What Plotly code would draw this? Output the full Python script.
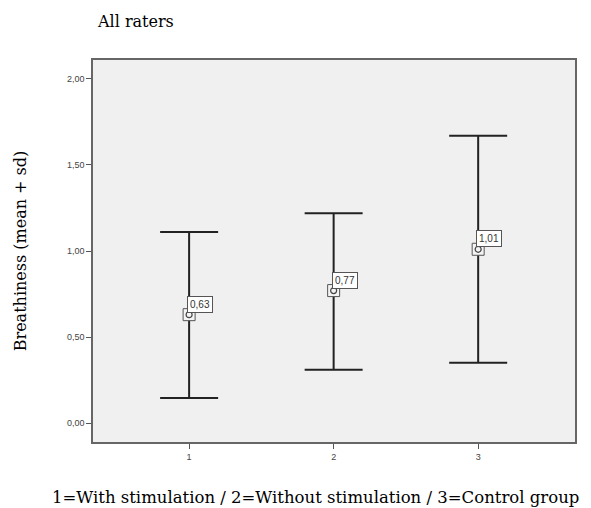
import plotly.graph_objects as go

groups = [1, 2, 3]
means = [0.63, 0.77, 1.01]
upper = [1.11, 1.22, 1.67]
lower = [0.145, 0.31, 0.35]
labels = ["0,63", "0,77", "1,01"]
yticks = [0.0, 0.5, 1.0, 1.5, 2.0]
x_title = "1=With stimulation / 2=Without stimulation / 3=Control group"

err_plus = [u - m for u, m in zip(upper, means)]
err_minus = [m - l for m, l in zip(means, lower)]

SERIF = "'DejaVu Serif', 'Liberation Serif', serif"
SANS = "Arial, 'Liberation Sans', sans-serif"

fig = go.Figure()
fig.add_trace(go.Scatter(
    x=groups, y=means, mode="markers",
    marker=dict(symbol="square", size=12, color="#f4f4f4",
                line=dict(color="#555555", width=1)),
    error_y=dict(type="data", symmetric=False, array=err_plus, arrayminus=err_minus,
                 color="#222222", thickness=2, width=29),
    showlegend=False, hoverinfo="skip",
))
fig.add_trace(go.Scatter(
    x=groups, y=means, mode="markers",
    marker=dict(symbol="circle-open", size=6, color="#444444", line=dict(width=1.2)),
    showlegend=False, hoverinfo="skip",
))

for g, m, t in zip(groups, means, labels):
    fig.add_annotation(x=g, y=m, text=t, showarrow=False, xanchor="left", yanchor="bottom",
                       xshift=-2, yshift=2, bgcolor="white", bordercolor="#555555",
                       borderwidth=1, borderpad=2,
                       font=dict(family=SANS, size=10, color="#333333"))

# x-axis title placed as a paper annotation (shifted left like the reference)
fig.add_annotation(text=x_title, xref="paper", yref="paper", x=(50 - 93) / 482, y=-(497 - 442) / 382,
                   xanchor="left", yanchor="middle", showarrow=False,
                   font=dict(family=SERIF, size=16.5, color="black"))

fig.update_layout(
    width=591, height=508,
    margin=dict(l=93, r=16, t=60, b=66),
    paper_bgcolor="white", plot_bgcolor="#f0f0f0",
    separators=", ",
    title=dict(text="All raters", x=98/591, xanchor="left", y=1-21/508, yanchor="middle",
               font=dict(family=SERIF, size=16, color="black")),
    font=dict(family=SERIF, color="black"),
)
fig.update_xaxes(
    range=[0.335, 3.67], tickvals=groups, ticktext=[str(g) for g in groups],
    ticks="outside", ticklen=5, tickcolor="#555555", showgrid=False, zeroline=False,
    showline=True, linecolor="#666666", linewidth=1.5, mirror=True, automargin=False,
    tickfont=dict(family=SANS, size=9, color="#444444"),
)
fig.update_yaxes(
    range=[-0.11, 2.11], tickvals=yticks, tickformat=".2f",
    ticks="outside", ticklen=5, tickcolor="#555555", showgrid=False, zeroline=False,
    showline=True, linecolor="#666666", linewidth=1.5, mirror=True, automargin=False,
    tickfont=dict(family=SANS, size=9, color="#444444"),
    title=dict(text="Breathiness (mean + sd)",
               font=dict(family=SERIF, size=16, color="black"), standoff=36),
)

fig.write_html("out.html")
